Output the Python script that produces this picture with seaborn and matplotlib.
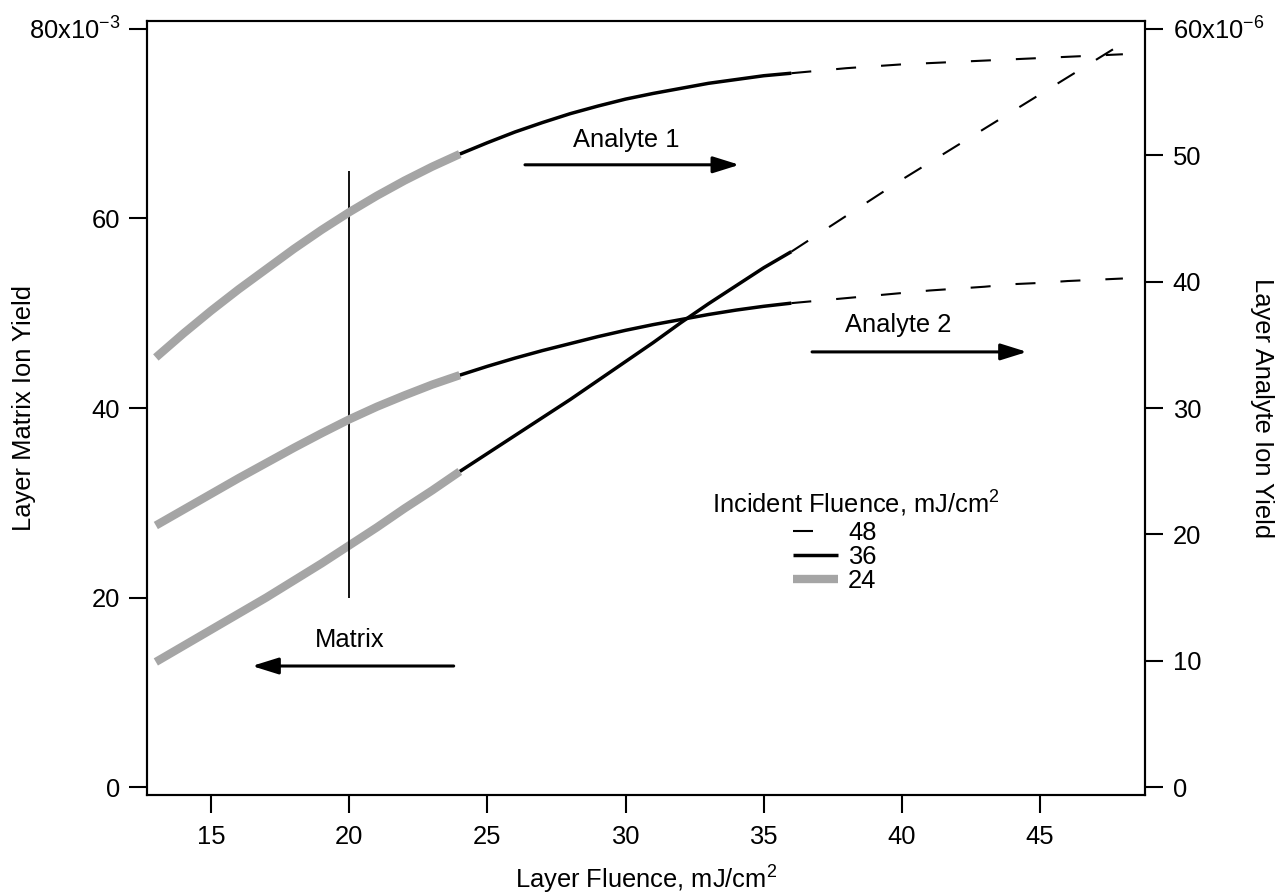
import numpy as np
import pandas as pd
import matplotlib
matplotlib.use("Agg")
import matplotlib.pyplot as plt
from matplotlib.lines import Line2D
from matplotlib.patches import ArrowStyle
import seaborn as sns

# ---- data -----------------------------------------------------------------
# layer fluence (mJ/cm^2) covered by each incident fluence run
fluence_24 = [13, 14, 15, 16, 17, 18, 19, 20, 21, 22, 23, 24]
fluence_36 = [24, 25, 26, 27, 28, 29, 30, 31, 32, 33, 34, 35, 36]
fluence_48 = [36, 37, 38, 39, 40, 41, 42, 43, 44, 45, 46, 47, 48]

# layer matrix ion yield, units of 1e-3
matrix_24 = [13.2, 14.9, 16.6, 18.3, 20.0, 21.8, 23.6, 25.5, 27.4, 29.4, 31.3, 33.3]
matrix_36 = [33.3, 35.2, 37.1, 39.0, 40.9, 42.9, 44.9, 46.9, 49.0, 51.0, 52.9, 54.8, 56.5]
matrix_48 = [56.5, 58.4, 60.3, 62.2, 64.1, 65.9, 67.7, 69.5, 71.3, 73.1, 74.9, 76.7, 78.5]

# layer analyte 1 ion yield, units of 1e-6
analyte1_24 = [34.0, 35.9, 37.7, 39.4, 41.0, 42.6, 44.1, 45.5, 46.8, 48.0, 49.1, 50.1]
analyte1_36 = [50.1, 51.0, 51.85, 52.6, 53.3, 53.9, 54.45, 54.9, 55.3, 55.7, 56.0, 56.3, 56.5]
analyte1_48 = [56.5, 56.7, 56.9, 57.05, 57.2, 57.3, 57.4, 57.5, 57.6, 57.7, 57.8, 57.9, 58.0]

# layer analyte 2 ion yield, units of 1e-6
analyte2_24 = [20.7, 21.95, 23.2, 24.45, 25.65, 26.85, 28.0, 29.1, 30.1, 31.0, 31.85, 32.6]
analyte2_36 = [32.6, 33.3, 33.95, 34.55, 35.1, 35.65, 36.15, 36.6, 37.0, 37.4, 37.75, 38.05, 38.3]
analyte2_48 = [38.3, 38.5, 38.7, 38.9, 39.1, 39.3, 39.45, 39.6, 39.8, 39.9, 40.05, 40.15, 40.25]

incident_fluences = [48, 36, 24]

x_ticks = [15, 20, 25, 30, 35, 40, 45]
left_ticks = [0, 20, 40, 60, 80]
left_tick_labels = ["0", "20", "40", "60", "80x10$^{-3}$"]
right_ticks = [0, 10, 20, 30, 40, 50, 60]
right_tick_labels = ["0", "10", "20", "30", "40", "50", "60x10$^{-6}$"]

# ---- tidy table ----------------------------------------------------------
segments = {
    24: (fluence_24, matrix_24, analyte1_24, analyte2_24),
    36: (fluence_36, matrix_36, analyte1_36, analyte2_36),
    48: (fluence_48, matrix_48, analyte1_48, analyte2_48),
}
frames = []
for inc, (f, m, a1, a2) in segments.items():
    frames.append(pd.DataFrame({
        "layer_fluence": f,
        "incident": inc,
        "matrix": np.array(m) * 1e-3,
        "analyte1": np.array(a1) * 1e-6,
        "analyte2": np.array(a2) * 1e-6,
    }))
df = pd.concat(frames, ignore_index=True)

# ---- style ---------------------------------------------------------------
sns.set_theme(style="white")
plt.rcParams.update({
    "font.family": ["Liberation Sans", "DejaVu Sans"],
    "mathtext.fontset": "custom",
    "mathtext.rm": "Liberation Sans",
    "mathtext.it": "Liberation Sans:italic",
    "mathtext.bf": "Liberation Sans:bold",
    "font.size": 18.4,
    "text.color": "black",
    "axes.labelcolor": "black",
    "xtick.color": "black",
    "ytick.color": "black",
    "lines.solid_capstyle": "butt",
    "lines.dash_capstyle": "butt",
})
FS = 18.4
GRAY = "#a5a5a5"
styles = {
    48: dict(color="black", lw=1.5, dashes=(9.6, 12.0)),
    36: dict(color="black", lw=2.5, dashes=None),
    24: dict(color=GRAY, lw=6.0, dashes=None),
}

fig = plt.figure(figsize=(12.78, 8.96), dpi=100)
ax = fig.add_axes([147 / 1278, 1 - 795 / 896, 998 / 1278, 774 / 896])
ax2 = ax.twinx()
ax2.set_position(ax.get_position())


def draw(axis, column, inc):
    st = styles[inc]
    sub = df[df["incident"] == inc]
    sns.lineplot(data=sub, x="layer_fluence", y=column, ax=axis,
                 color=st["color"], lw=st["lw"], estimator=None, sort=False,
                 legend=False)
    line = axis.lines[-1]
    if st["dashes"] is not None:
        line.set_dashes(st["dashes"])
    return line


for inc in incident_fluences:
    draw(ax, "matrix", inc)
    draw(ax2, "analyte1", inc)
    draw(ax2, "analyte2", inc)

# reference fluence marker
ax.plot([20, 20], [20e-3, 65e-3], color="black", lw=1.3)

# ---- axes ----------------------------------------------------------------
ax.set_xlim(12.68, 48.8)
ax.set_ylim(-0.844e-3, 80.844e-3)
ax2.set_ylim(-0.633e-6, 60.633e-6)

ax.set_xticks(x_ticks)
ax.set_xticklabels([str(t) for t in x_ticks])
ax.set_yticks(np.array(left_ticks) * 1e-3)
ax.set_yticklabels(left_tick_labels)
ax2.set_yticks(np.array(right_ticks) * 1e-6)
ax2.set_yticklabels(right_tick_labels)

for a in (ax, ax2):
    for s in a.spines.values():
        s.set_visible(True)
        s.set_color("black")
        s.set_linewidth(1.5)
    a.grid(False)
    a.set_facecolor("none")
ax.tick_params(axis="x", direction="out", length=13, width=1.5, pad=8.5,
               labelsize=FS, colors="black", bottom=True)
ax.tick_params(axis="y", direction="out", length=13, width=1.5, pad=6.5,
               labelsize=FS, colors="black", left=True)
ax2.tick_params(axis="y", direction="out", length=13, width=1.5, pad=7,
                labelsize=FS, colors="black", right=True)

ax.set_xlabel("Layer Fluence, mJ/cm$^{2}$", fontsize=FS, color="black")
ax.set_ylabel("Layer Matrix Ion Yield", fontsize=FS, color="black")
ax2.set_ylabel("Layer Analyte Ion Yield", fontsize=FS, color="black",
               rotation=270, va="bottom")
ax.xaxis.set_label_coords(0.5, -0.089)
ax.yaxis.set_label_coords(-0.111, 0.5)
ax2.yaxis.set_label_coords(1.105, 0.5)

# ---- arrows and annotations ---------------------------------------------
head = ArrowStyle("-|>", head_length=0.8, head_width=0.25)
arrow_kw = dict(arrowstyle=head, mutation_scale=20, lw=2.2, color="black",
                shrinkA=0, shrinkB=0)
ax.annotate("", xy=(16.48, 12.77e-3), xytext=(23.78, 12.77e-3), arrowprops=arrow_kw)
ax.text(20.0, 15.5e-3, "Matrix", ha="center", va="center", fontsize=FS)
ax2.annotate("", xy=(34.12, 49.25e-6), xytext=(26.36, 49.25e-6), arrowprops=arrow_kw)
ax2.text(30.04, 51.2e-6, "Analyte 1", ha="center", va="center", fontsize=FS)
ax2.annotate("", xy=(44.53, 34.44e-6), xytext=(36.75, 34.44e-6), arrowprops=arrow_kw)
ax2.text(39.86, 36.55e-6, "Analyte 2", ha="center", va="center", fontsize=FS)

# ---- legend --------------------------------------------------------------
handles = []
for inc in incident_fluences:
    st = styles[inc]
    h = Line2D([], [], color=st["color"], lw=st["lw"])
    if st["dashes"] is not None:
        h.set_dashes((9.6, 14.5))
    handles.append(h)
ax2.text(0.566, 0.376, "Incident Fluence, mJ/cm$^{2}$", transform=ax2.transAxes,
         ha="left", va="center", fontsize=FS)
leg = ax2.legend(handles, [str(i) for i in incident_fluences],
                 loc="upper left", bbox_to_anchor=(0.647, 0.354),
                 frameon=False, fontsize=FS, borderpad=0, borderaxespad=0,
                 handlelength=1.76, handletextpad=0.4, labelspacing=0.0)

fig.savefig("out.png", dpi=100)
